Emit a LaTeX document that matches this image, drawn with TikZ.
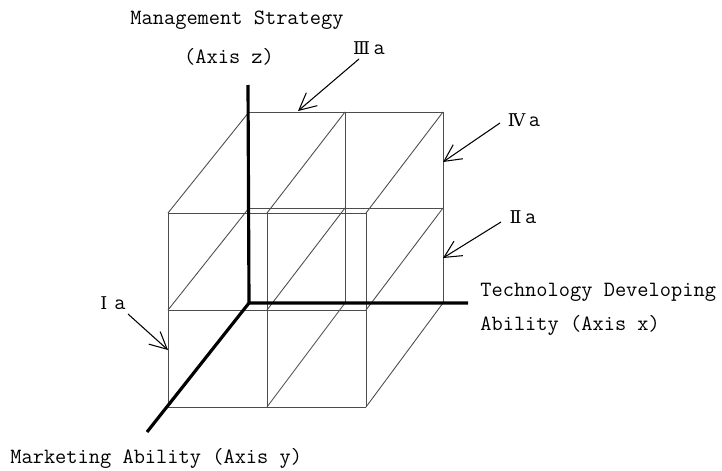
\documentclass[tikz,border=0pt]{standalone}
\usepackage{fontspec}
\newfontfamily\numfont{DejaVu Serif}
\usetikzlibrary{arrows.meta}
\tikzset{
  gridline/.style={draw=black!70, line width=0.5pt},
  axis/.style={line width=1.8pt, line join=miter},
  pointer/.style={line width=0.6pt, -{Straight Barb[length=3.4mm,width=3.4mm]}},
  lbl/.style={font=\ttfamily\fontsize{12.4}{14}\selectfont, inner sep=0pt},
}
\newcommand{\rom}[1]{{\numfont\fontsize{10}{12}\selectfont #1}}
\begin{document}
\begin{tikzpicture}[x=0.02cm, y=-0.02cm]
  \useasboundingbox (0,0) rectangle (722,470);

  \coordinate (o)    at (249,303);
  \coordinate (ztop) at (248,85);
  \coordinate (xend) at (468,303);
  \coordinate (yend) at (147,432);

  % back face
  \foreach \bx in {345,443}
    \draw[gridline] (\bx,112) -- (\bx,303);
  \foreach \by in {112,208}
    \draw[gridline] (249,\by) -- (443,\by);
  % front face
  \foreach \fx in {168,267,366}
    \draw[gridline] (\fx,213) -- (\fx,407);
  \foreach \fy in {213,310,407}
    \draw[gridline] (168,\fy) -- (366,\fy);
  % edges from back to front
  \foreach \bx/\fx in {249/168,345/267,443/366}
    \foreach \by/\fy in {112/213,208/310,303/407}
      \draw[gridline] (\bx,\by) -- (\fx,\fy);

  % axes
  \draw[axis] (ztop) -- (o) -- (xend);
  \draw[axis] (o) -- (yend);

  \node[lbl] (zname) at (237,20) {Management Strategy};
  \node[lbl] (zaxis) at (229,57) {(Axis z)};
  \node[lbl, anchor=west] (xname) at (480,292) {Technology Developing};
  \node[lbl, anchor=west] (xaxis) at (480,325) {Ability (Axis x)};
  \node[lbl, anchor=west] (yname) at (10,458) {Marketing Ability (Axis y)};

  \node[lbl] (l3) at (369,48)  {\rom{Ⅲ}\,a};
  \node[lbl] (l4) at (524,120) {\rom{Ⅳ}\,a};
  \node[lbl] (l2) at (523,217) {\rom{Ⅱ}\,a};
  \node[lbl] (l1) at (113,303) {\rom{Ⅰ}\,\,a};

  \coordinate (s3) at (359,59);
  \coordinate (t3) at (298,111);
  \coordinate (s4) at (500,123);
  \coordinate (t4) at (443,162);
  \coordinate (s2) at (501,222);
  \coordinate (t2) at (443,258);
  \coordinate (s1) at (128,314);
  \coordinate (t1) at (168,350);

  \draw[pointer] (s3) -- (t3);
  \draw[pointer] (s4) -- (t4);
  \draw[pointer] (s2) -- (t2);
  \draw[pointer] (s1) -- (t1);
\end{tikzpicture}
\end{document}
